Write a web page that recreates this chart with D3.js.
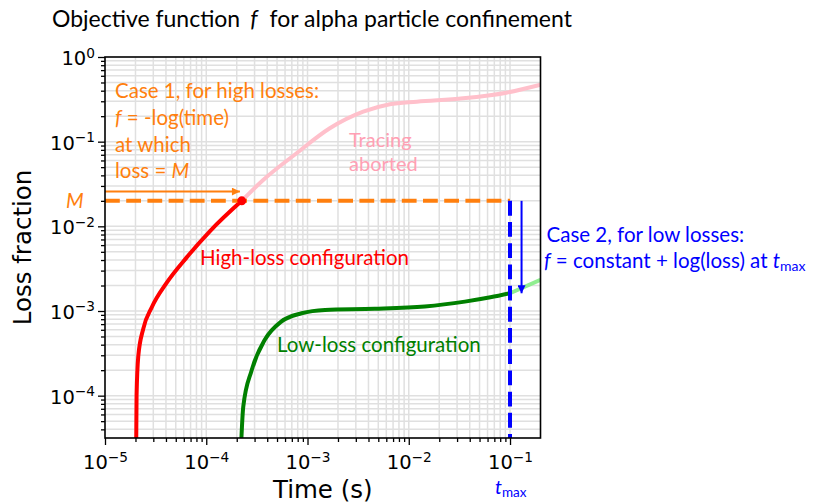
<!DOCTYPE html>
<html>
<head>
<meta charset="utf-8">
<script src="https://cdn.jsdelivr.net/npm/d3@7"></script>
<style>
  body { margin: 0; background: #fff; }
  svg { display: block; }
</style>
</head>
<body>
<svg id="chart" width="813" height="504"></svg>
<script>
// ---- data -------------------------------------------------------------
// Axis extents (time in s, loss fraction)
const timeDomain = [1e-5, 0.2];
const lossDomain = [3.162e-5, 1];

// Major tick values and their exponent labels
const timeTicks = [1e-5, 1e-4, 1e-3, 1e-2, 1e-1];
const timeTickExp = ["\u22125", "\u22124", "\u22123", "\u22122", "\u22121"];
const lossTicks = [1e-4, 1e-3, 1e-2, 1e-1, 1];
const lossTickExp = ["\u22124", "\u22123", "\u22122", "\u22121", "0"];

// High-loss configuration, traced until the loss reaches M
const highTime = [2.02e-5, 2.05e-5, 2.13e-5, 2.39e-5, 2.89e-5, 4.06e-5, 6.41e-5, 1.09e-4, 2.24e-4];
const highLoss = [1.0e-5, 1.0e-4, 2.9e-4, 6.2e-4, 1.1e-3, 2.15e-3, 4.3e-3, 8.8e-3, 2.0e-2];

// Continuation that is never traced (aborted)
const abortedTime = [2.24e-4, 3.65e-4, 7.8e-4, 1.66e-3, 3.55e-3, 6.5e-3, 1.2e-2, 3.44e-2, 9.2e-2, 0.2];
const abortedLoss = [2.0e-2, 3.53e-2, 7.3e-2, 0.144, 0.226, 0.277, 0.297, 0.325, 0.379, 0.47];

// Low-loss configuration, traced until t_max
const lowTime = [2.14e-4, 2.32e-4, 2.81e-4, 3.8e-4, 5.5e-4, 8.75e-4, 1.49e-3, 4.6e-3, 1.44e-2, 3.58e-2, 6.4e-2, 0.1];
const lowLoss = [1.0e-5, 7.4e-5, 2.0e-4, 4.6e-4, 7.5e-4, 9.4e-4, 1.03e-3, 1.06e-3, 1.13e-3, 1.29e-3, 1.45e-3, 1.62e-3];

// Low-loss configuration beyond t_max
const lateTime = [0.1, 0.2];
const lateLoss = [1.62e-3, 2.33e-3];

// Thresholds
const lossM = 0.02;
const tMax = 0.1;

// Annotation arrows (time, loss)
const case1ArrowTime = [1e-5, 2.15e-4];
const case1ArrowLoss = 0.0257;
const case2ArrowTime = 0.13;
const case2ArrowLoss = [0.02, 1.62e-3];

// ---- layout -----------------------------------------------------------
const svg = d3.select("#chart");
const plot = { left: 105, right: 540.5, top: 57, bottom: 438 };

const x = d3.scaleLog().domain(timeDomain).range([plot.left, plot.right]);
const y = d3.scaleLog().domain(lossDomain).range([plot.bottom, plot.top]);

const minorOf = (lo, hi) => {
  const out = [];
  for (let e = Math.floor(Math.log10(lo)); e <= Math.ceil(Math.log10(hi)); e++) {
    for (let k = 2; k <= 9; k++) {
      const v = k * Math.pow(10, e);
      if (v > lo * 1.0001 && v < hi * 0.9999) out.push(v);
    }
  }
  return out;
};
const timeMinor = minorOf(timeDomain[0], timeDomain[1]);
const lossMinor = minorOf(lossDomain[0], lossDomain[1]);

const tickFont = "DejaVu Sans, sans-serif";
const noteFont = "Lato, 'Open Sans', sans-serif";

// ---- grid -------------------------------------------------------------
const grid = svg.append("g").attr("stroke", "#e0e0e0").attr("stroke-width", 1.5);
grid.selectAll("line.gx").data(timeTicks.concat(timeMinor).filter(v => v > timeDomain[0]))
  .join("line").attr("class", "gx")
  .attr("x1", d => x(d)).attr("x2", d => x(d))
  .attr("y1", plot.top).attr("y2", plot.bottom);
grid.selectAll("line.gy").data(lossTicks.concat(lossMinor).filter(v => v < lossDomain[1]))
  .join("line").attr("class", "gy")
  .attr("y1", d => y(d)).attr("y2", d => y(d))
  .attr("x1", plot.left).attr("x2", plot.right);

// ---- curves -----------------------------------------------------------
svg.append("clipPath").attr("id", "plotClip")
  .append("rect")
  .attr("x", plot.left).attr("y", plot.top)
  .attr("width", plot.right - plot.left).attr("height", plot.bottom - plot.top);

const curves = svg.append("g").attr("clip-path", "url(#plotClip)");
const line = d3.line().x(d => x(d[0])).y(d => y(d[1])).curve(d3.curveMonotoneX);
const zip = (a, b) => a.map((v, i) => [v, b[i]]);

const series = [
  { t: abortedTime, l: abortedLoss, color: "#ffc0cb" },
  { t: lateTime, l: lateLoss, color: "#90ee90" },
  { t: highTime, l: highLoss, color: "#ff0000" },
  { t: lowTime, l: lowLoss, color: "#008000" }
];
curves.selectAll("path.series").data(series).join("path")
  .attr("class", "series")
  .attr("d", d => line(zip(d.t, d.l)))
  .attr("fill", "none")
  .attr("stroke", d => d.color)
  .attr("stroke-width", 4)
  .attr("stroke-linecap", "butt");

// Threshold M (horizontal) and t_max (vertical)
curves.append("line")
  .attr("x1", x(timeDomain[0])).attr("x2", x(tMax))
  .attr("y1", y(lossM)).attr("y2", y(lossM))
  .attr("stroke", "#ff7f0e").attr("stroke-width", 4)
  .attr("stroke-dasharray", "14.8 6.4");
curves.append("line")
  .attr("x1", x(tMax)).attr("x2", x(tMax))
  .attr("y1", y(lossM)).attr("y2", y(lossDomain[0]))
  .attr("stroke", "#0000ff").attr("stroke-width", 4)
  .attr("stroke-dasharray", "14.8 6.4");

// Point where the high-loss trace hits M
svg.append("circle")
  .attr("cx", x(highTime[highTime.length - 1]))
  .attr("cy", y(highLoss[highLoss.length - 1]))
  .attr("r", 4.5).attr("fill", "#ff0000");

// ---- arrows -----------------------------------------------------------
const defs = svg.append("defs");
function marker(id, color) {
  defs.append("marker").attr("id", id)
    .attr("viewBox", "0 0 10 10").attr("refX", 10).attr("refY", 5)
    .attr("markerUnits", "userSpaceOnUse")
    .attr("markerWidth", 10).attr("markerHeight", 8)
    .attr("orient", "auto")
    .append("path").attr("d", "M0,0 L10,5 L0,10 Z").attr("fill", color);
}
marker("headOrange", "#ff7f0e");
marker("headBlue", "#0000ff");

svg.append("line")
  .attr("x1", x(case1ArrowTime[0])).attr("x2", x(case1ArrowTime[1]))
  .attr("y1", y(case1ArrowLoss)).attr("y2", y(case1ArrowLoss))
  .attr("stroke", "#ff7f0e").attr("stroke-width", 2)
  .attr("marker-end", "url(#headOrange)");
svg.append("line")
  .attr("x1", x(case2ArrowTime)).attr("x2", x(case2ArrowTime))
  .attr("y1", y(case2ArrowLoss[0])).attr("y2", y(case2ArrowLoss[1]))
  .attr("stroke", "#0000ff").attr("stroke-width", 2)
  .attr("marker-end", "url(#headBlue)");

// ---- axes -------------------------------------------------------------
function styleAxis(g) {
  g.select(".domain").remove();
  g.selectAll(".tick line").attr("stroke", "#000").attr("stroke-width", 1.3);
}

const xMinorAxis = svg.append("g").attr("transform", `translate(0,${plot.bottom})`)
  .call(d3.axisBottom(x).tickValues(timeMinor).tickSize(4).tickFormat(() => ""));
styleAxis(xMinorAxis);
const yMinorAxis = svg.append("g").attr("transform", `translate(${plot.left},0)`)
  .call(d3.axisLeft(y).tickValues(lossMinor).tickSize(4).tickFormat(() => ""));
styleAxis(yMinorAxis);

const xAxis = svg.append("g").attr("transform", `translate(0,${plot.bottom})`)
  .call(d3.axisBottom(x).tickValues(timeTicks).tickSize(7).tickFormat(() => ""));
styleAxis(xAxis);
xAxis.selectAll(".tick text")
  .attr("y", 31).attr("dy", null)
  .attr("font-family", tickFont).attr("font-size", 19.5).attr("fill", "#000")
  .attr("text-anchor", "middle")
  .each(function (d, i) {
    const t = d3.select(this);
    t.append("tspan").text("10");
    t.append("tspan").attr("font-size", 13.7).attr("dy", -7.5).text(timeTickExp[i]);
  });

const yAxis = svg.append("g").attr("transform", `translate(${plot.left},0)`)
  .call(d3.axisLeft(y).tickValues(lossTicks).tickSize(7).tickFormat(() => ""));
styleAxis(yAxis);
yAxis.selectAll(".tick text")
  .attr("x", -10).attr("dy", null).attr("y", 7.5)
  .attr("font-family", tickFont).attr("font-size", 19.5).attr("fill", "#000")
  .attr("text-anchor", "end")
  .each(function (d, i) {
    const t = d3.select(this);
    t.append("tspan").text("10");
    t.append("tspan").attr("font-size", 13.7).attr("dy", -7.5).text(lossTickExp[i]);
  });

// Frame
svg.append("rect")
  .attr("x", plot.left).attr("y", plot.top)
  .attr("width", plot.right - plot.left).attr("height", plot.bottom - plot.top)
  .attr("fill", "none").attr("stroke", "#000").attr("stroke-width", 1.6);

// Axis titles
svg.append("text")
  .attr("x", (plot.left + plot.right) / 2).attr("y", 498)
  .attr("text-anchor", "middle")
  .attr("font-family", tickFont).attr("font-size", 24.5)
  .text("Time (s)");
svg.append("text")
  .attr("transform", `translate(31,${(plot.top + plot.bottom) / 2}) rotate(-90)`)
  .attr("text-anchor", "middle")
  .attr("font-family", tickFont).attr("font-size", 24.5)
  .text("Loss fraction");

// ---- text annotations -------------------------------------------------
function richText(xp, yp, parts, color, size) {
  const t = svg.append("text")
    .attr("x", xp).attr("y", yp)
    .attr("font-family", noteFont).attr("font-size", size).attr("fill", color);
  parts.forEach(p => {
    const s = t.append("tspan").text(p.s);
    if (p.i) s.attr("font-style", "italic");
    if (p.dx) s.attr("dx", p.dx);
    if (p.sub) s.attr("font-size", p.sub).attr("dy", p.dy);
  });
  return t;
}

richText(52, 26.5, [
  { s: "Objective function" },
  { s: "f", i: true, dx: 10 },
  { s: "for alpha particle confinement", dx: 12 }
], "#000", 23);

const orange = "#ff7f0e";
richText(115, 98, [{ s: "Case 1, for high losses:" }], orange, 20.5);
richText(115, 125, [{ s: "f", i: true }, { s: " = -log(time)" }], orange, 20.5);
richText(115, 151.5, [{ s: "at which" }], orange, 20.5);
richText(115, 178, [{ s: "loss = " }, { s: "M", i: true }], orange, 20.5);
richText(66, 208, [{ s: "M", i: true }], orange, 20.5);

richText(349, 146.5, [{ s: "Tracing" }], "#ffa0b4", 20);
richText(349, 170.5, [{ s: "aborted" }], "#ffa0b4", 20);

richText(200, 265, [{ s: "High-loss configuration" }], "#ff0000", 20.5);
richText(277, 351.5, [{ s: "Low-loss configuration" }], "#008000", 20.5);

const blue = "#0000ff";
richText(546.5, 241.5, [{ s: "Case 2, for low losses:" }], blue, 20.5);
richText(544, 268, [
  { s: "f", i: true },
  { s: " = constant + log(loss) at " },
  { s: "t", i: true },
  { s: "max", sub: 14, dy: 3 }
], blue, 20.5);
richText(495, 494, [
  { s: "t", i: true },
  { s: "max", sub: 13.5, dy: 3 }
], blue, 19.5);
</script>
</body>
</html>
